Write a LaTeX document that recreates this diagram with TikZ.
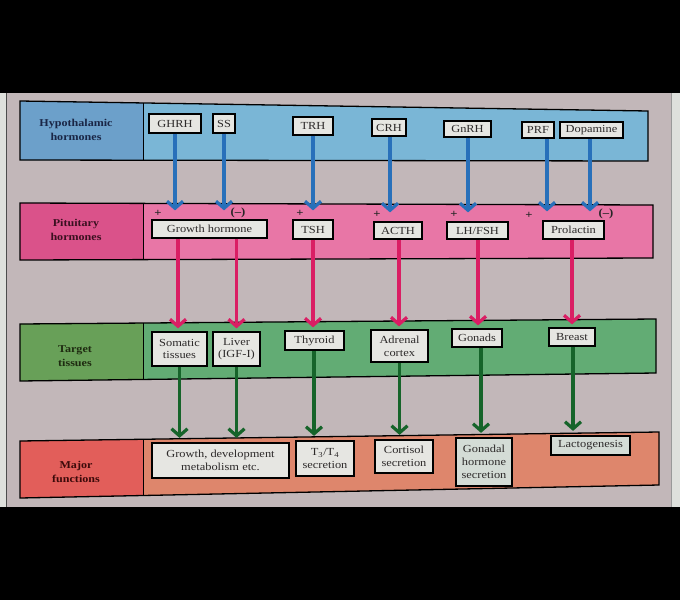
\documentclass[tikz,border=0pt]{standalone}
\usepackage{fontspec}
\setmainfont{Liberation Serif}[FakeStretch=1.15]
\usetikzlibrary{arrows.meta}
\definecolor{pagebg}{RGB}{194,183,185}
\definecolor{stripbg}{RGB}{222,224,220}
\definecolor{blueR}{RGB}{122,182,214}
\definecolor{blueL}{RGB}{108,160,202}
\definecolor{pinkR}{RGB}{232,118,166}
\definecolor{pinkL}{RGB}{218,82,138}
\definecolor{greenR}{RGB}{98,172,116}
\definecolor{greenL}{RGB}{104,160,88}
\definecolor{orangeR}{RGB}{222,134,108}
\definecolor{orangeL}{RGB}{226,94,90}
\definecolor{boxfill}{RGB}{230,230,226}
\definecolor{boxfillg}{RGB}{212,220,214}
\definecolor{boxtext}{RGB}{45,42,42}
\definecolor{barrowc}{RGB}{40,112,186}
\definecolor{parrowc}{RGB}{218,30,100}
\definecolor{garrowc}{RGB}{22,100,42}
\definecolor{lblblue}{RGB}{26,38,70}
\definecolor{lblpink}{RGB}{58,16,32}
\definecolor{lblgreen}{RGB}{30,42,16}
\definecolor{lblred}{RGB}{60,10,10}
\tikzset{
  hbox/.style={draw=black, line width=1.2pt, fill=boxfill, inner sep=1pt,
    align=center, text=boxtext, font=\fontsize{10.8}{12.8}\selectfont},
  lbl/.style={align=center, inner sep=0pt, font=\bfseries\fontsize{10.5}{13.5}\selectfont},
  sign/.style={inner sep=0pt, text=black!85, font=\bfseries\fontsize{11}{11}\selectfont},
  band/.style={draw=black, line width=1.3pt},
  arrowbase/.style={line width=3.2pt, -{Straight Barb[length=7pt,width=16pt]}},
  barrow/.style={arrowbase, draw=barrowc, shorten >=9pt},
  parrow/.style={arrowbase, draw=parrowc, shorten >=3pt},
  garrow/.style={arrowbase, draw=garrowc, shorten >=4.5pt}
}
\begin{document}
\begin{tikzpicture}[x=1pt,y=-1pt]
% background
\fill[black] (0,0) rectangle (680,600);
\useasboundingbox (0,0) rectangle (680,600);
\fill[stripbg] (0,93) rectangle (6,507);
\fill[stripbg] (672,93) rectangle (680,507);
\fill[pagebg] (6,93) rectangle (672,507);
\draw[black!70, line width=0.8pt] (6.5,93) -- (6.5,507);
\draw[black!40, line width=0.6pt] (671.5,93) -- (671.5,507);
% bands
\fill[blueR] (20,101) -- (648,111) -- (648,161) -- (20,160) -- cycle;
\fill[blueL] (20,101) -- (143,103) -- (143,160.2) -- (20,160) -- cycle;
\draw[band] (20,101) -- (648,111) -- (648,161) -- (20,160) -- cycle;
\draw[black, line width=0.9pt] (143,103) -- (143,160.2);
\fill[pinkR] (20,203) -- (653,205) -- (653,258) -- (20,260) -- cycle;
\fill[pinkL] (20,203) -- (143,203.4) -- (143,259.6) -- (20,260) -- cycle;
\draw[band] (20,203) -- (653,205) -- (653,258) -- (20,260) -- cycle;
\draw[black, line width=0.9pt] (143,203.4) -- (143,259.6);
\fill[greenR] (20,324) -- (656,319) -- (656,373) -- (20,381) -- cycle;
\fill[greenL] (20,324) -- (143,323) -- (143,379.5) -- (20,381) -- cycle;
\draw[band] (20,324) -- (656,319) -- (656,373) -- (20,381) -- cycle;
\draw[black, line width=0.9pt] (143,323) -- (143,379.5);
\fill[orangeR] (20,441) -- (659,432) -- (659,485) -- (20,498) -- cycle;
\fill[orangeL] (20,441) -- (143,439.3) -- (143,495.5) -- (20,498) -- cycle;
\draw[band] (20,441) -- (659,432) -- (659,485) -- (20,498) -- cycle;
\draw[black, line width=0.9pt] (143,439.3) -- (143,495.5);
% row labels
\node[lbl, text=lblblue] (L1) at (76,130) {Hypothalamic\\hormones};
\node[lbl, text=lblpink] (L2) at (76,230) {Pituitary\\hormones};
\node[lbl, text=lblgreen] (L3) at (75,356) {Target\\tissues};
\node[lbl, text=lblred] (L4) at (76,472) {Major\\functions};
% hypothalamic hormones
\node[hbox, minimum width=52pt, minimum height=19pt] (GHRH) at (175,123.5) {GHRH};
\node[hbox, minimum width=22pt, minimum height=19pt] (SS) at (224,123.5) {SS};
\node[hbox, minimum width=40pt, minimum height=18pt] (TRH) at (313,126) {TRH};
\node[hbox, minimum width=34pt, minimum height=17pt] (CRH) at (389,127.5) {CRH};
\node[hbox, minimum width=47pt, minimum height=16pt] (GnRH) at (467.5,129) {GnRH};
\node[hbox, minimum width=32pt, minimum height=16pt] (PRF) at (538,130) {PRF};
\node[hbox, minimum width=63pt, minimum height=16pt] (DOP) at (591.5,130) {Dopamine};
% pituitary hormones
\node[hbox, minimum width=115pt, minimum height=18pt] (GH) at (209.5,229) {Growth hormone};
\node[hbox, minimum width=40pt, minimum height=19pt] (TSH) at (313,229.5) {TSH};
\node[hbox, minimum width=48pt, minimum height=17pt] (ACTH) at (398,230.5) {ACTH};
\node[hbox, minimum width=61pt, minimum height=17pt] (LHFSH) at (477.5,230.5) {LH/FSH};
\node[hbox, minimum width=61pt, minimum height=18pt] (PRL) at (573.5,230) {Prolactin};
% signs
\node[sign] (s1) at (158,213) {+};
\node[sign] (s2) at (238,213) {(--)};
\node[sign] (s3) at (300,213) {+};
\node[sign] (s4) at (377,214) {+};
\node[sign] (s5) at (454,214) {+};
\node[sign] (s6) at (529,215) {+};
\node[sign] (s7) at (606,214) {(--)};
% target tissues
\node[hbox, minimum width=55pt, minimum height=34pt] (SOM) at (179.5,349) {Somatic\\tissues};
\node[hbox, minimum width=47pt, minimum height=34pt] (LIV) at (236.5,349) {Liver\\(IGF-I)};
\node[hbox, minimum width=59pt, minimum height=19pt] (THY) at (314.5,340.5) {Thyroid};
\node[hbox, minimum width=57pt, minimum height=32pt] (ADR) at (399.5,346) {Adrenal\\cortex};
\node[hbox, minimum width=50pt, minimum height=18pt] (GON) at (477,338) {Gonads};
\node[hbox, minimum width=46pt, minimum height=18pt] (BRE) at (572,337) {Breast};
% major functions
\node[hbox, minimum width=137pt, minimum height=35pt] (GD) at (220.5,460.5) {Growth, development\\metabolism etc.};
\node[hbox, minimum width=58pt, minimum height=35pt] (T34) at (325,458.5) {T\textsubscript{3}/T\textsubscript{4}\\secretion};
\node[hbox, minimum width=58pt, minimum height=33pt] (COR) at (404,456.5) {Cortisol\\secretion};
\node[hbox, fill=boxfillg, minimum width=56pt, minimum height=48pt] (GHS) at (484,462) {Gonadal\\hormone\\secretion};
\node[hbox, fill=boxfillg, minimum width=79pt, minimum height=19pt] (LAC) at (590.5,445.5) {Lactogenesis};
% blue arrows
\draw[barrow] (GHRH.south) -- (GHRH.south |- GH.north);
\draw[barrow] (SS.south) -- (SS.south |- GH.north);
\draw[barrow] (TRH.south) -- (TRH.south |- TSH.north);
\draw[barrow] ([xshift=1pt]CRH.south) -- ([xshift=1pt]CRH.south |- ACTH.north);
\draw[barrow] ([xshift=0.5pt]GnRH.south) -- ([xshift=0.5pt]GnRH.south |- LHFSH.north);
\draw[barrow] ([xshift=9pt]PRF.south) -- ([xshift=9pt]PRF.south |- PRL.north);
\draw[barrow] ([xshift=-1.5pt]DOP.south) -- ([xshift=-1.5pt]DOP.south |- PRL.north);
% pink arrows
\draw[parrow] ([xshift=-1.5pt]SOM.north |- GH.south) -- ([xshift=-1.5pt]SOM.north);
\draw[parrow] (LIV.north |- GH.south) -- (LIV.north);
\draw[parrow] (TSH.south) -- (TSH.south |- THY.north);
\draw[parrow] ([xshift=1pt]ACTH.south) -- ([xshift=1pt]ACTH.south |- ADR.north);
\draw[parrow] ([xshift=0.5pt]LHFSH.south) -- ([xshift=0.5pt]LHFSH.south |- GON.north);
\draw[parrow] (BRE.north |- PRL.south) -- (BRE.north);
% green arrows
\draw[garrow] (SOM.south) -- (SOM.south |- GD.north);
\draw[garrow] (LIV.south) -- (LIV.south |- GD.north);
\draw[garrow] ([xshift=-0.5pt]THY.south) -- ([xshift=-0.5pt]THY.south |- T34.north);
\draw[garrow] (ADR.south) -- (ADR.south |- COR.north);
\draw[garrow] ([xshift=4pt]GON.south) -- ([xshift=4pt]GON.south |- GHS.north);
\draw[garrow] ([xshift=1pt]BRE.south) -- ([xshift=1pt]BRE.south |- LAC.north);
\end{tikzpicture}
\end{document}
